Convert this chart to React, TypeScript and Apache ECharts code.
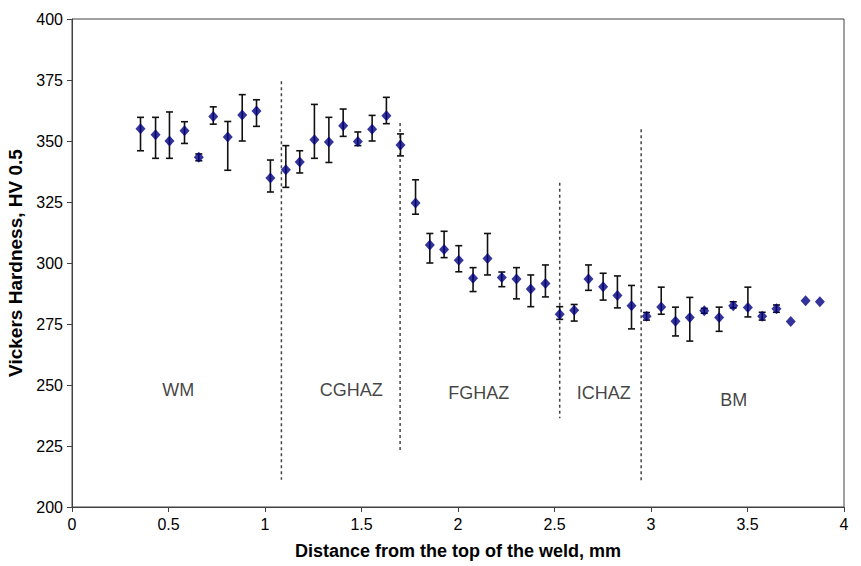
import React, { useEffect, useRef } from "react";
import * as echarts from "echarts";

// Distance from the top of the weld (mm)
const distance = [
  0.355, 0.433, 0.505, 0.583, 0.657, 0.732, 0.807, 0.882, 0.956, 1.028,
  1.108, 1.18, 1.256, 1.331, 1.405, 1.481, 1.555, 1.629, 1.702, 1.78,
  1.854, 1.928, 2.004, 2.078, 2.153, 2.227, 2.303, 2.377, 2.453, 2.527,
  2.602, 2.676, 2.752, 2.826, 2.899, 2.977, 3.053, 3.127, 3.201, 3.276,
  3.353, 3.426, 3.502, 3.576, 3.65, 3.724, 3.801, 3.875,
];

// Mean hardness, HV 0.5
const hardness = [
  355.0, 352.6, 350.0, 354.2, 343.3, 360.0, 351.6, 360.7, 362.3, 334.8,
  338.2, 341.4, 350.5, 349.6, 356.2, 349.8, 354.8, 360.3, 348.4, 324.6,
  307.4, 305.5, 301.1, 293.8, 301.8, 294.1, 293.4, 289.3, 291.6, 279.0,
  280.6, 293.4, 290.3, 286.7, 282.5, 278.2, 282.0, 276.1, 277.7, 280.4,
  277.7, 282.5, 281.8, 278.2, 281.3, 276.0, 284.5, 284.1,
];

// Upper / lower ends of the scatter bars (null = single reading)
const hardnessHigh = [
  359.7, 359.7, 361.9, 357.9, 344.7, 364.0, 358.0, 369.0, 366.9, 342.2,
  348.1, 346.0, 365.0, 359.7, 363.1, 353.7, 360.5, 367.9, 352.9, 334.1,
  312.1, 313.0, 307.1, 298.1, 312.1, 296.3, 298.1, 295.1, 299.2, 282.1,
  283.0, 299.2, 295.8, 294.7, 290.8, 279.7, 290.1, 281.9, 285.9, 281.4,
  281.9, 284.1, 290.1, 279.8, 282.8, null, null, null,
];
const hardnessLow = [
  346.0, 342.9, 342.9, 349.0, 341.9, 356.9, 338.0, 350.0, 356.0, 329.1,
  331.0, 336.9, 342.9, 341.2, 351.9, 348.1, 350.0, 357.1, 343.9, 320.0,
  300.0, 302.2, 296.4, 288.3, 295.1, 290.3, 285.3, 282.1, 286.1, 276.9,
  276.2, 288.8, 284.8, 281.6, 273.0, 276.6, 279.0, 270.1, 268.0, 279.4,
  272.0, 281.6, 277.9, 276.6, 279.8, null, null, null,
];

// Zone boundaries (dashed verticals)
const boundaryX = [1.085, 1.7, 2.527, 2.949];
const boundaryTop = [374.5, 357.4, 332.9, 354.8];
const boundaryBottom = [211.2, 222.3, 236.4, 211.0];

// Zone names and where they sit
const zoneNames = ["WM", "CGHAZ", "FGHAZ", "ICHAZ", "BM"];
const zoneX = [0.55, 1.447, 2.108, 2.755, 3.429];
const zoneY = [248.1, 248.1, 246.7, 246.7, 244.0];

const FONT = "'Liberation Sans', Arial, Helvetica, sans-serif";

export default function App() {
  const ref = useRef<HTMLDivElement>(null);

  useEffect(() => {
    if (!ref.current) return;
    const chart = echarts.init(ref.current, null, { renderer: "svg" });

    const points = distance.map((x, i) => [x, hardness[i]]);
    const bars = distance
      .map((x, i) => [x, hardnessLow[i], hardnessHigh[i]])
      .filter((d) => d[1] != null && d[2] != null);
    const bounds = boundaryX.map((x, i) => [x, boundaryBottom[i], boundaryTop[i]]);
    const zones = zoneNames.map((n, i) => ({ name: n, value: [zoneX[i], zoneY[i]] }));

    chart.setOption({
      animation: false,
      backgroundColor: "#ffffff",
      grid: {
        left: 72,
        right: 17,
        top: 19,
        bottom: 59,
        outerBoundsMode: "none",
        show: true,
        borderColor: "#404040",
        borderWidth: 1,
      },
      xAxis: {
        type: "value",
        min: 0,
        max: 4,
        interval: 0.5,
        name: "Distance from the top of the weld, mm",
        nameLocation: "middle",
        nameGap: 35,
        nameTextStyle: { fontFamily: FONT, fontSize: 18, fontWeight: "bold", color: "#000" },
        axisLine: { lineStyle: { color: "#404040", width: 1 } },
        axisTick: { show: true, length: 5, lineStyle: { color: "#404040" } },
        axisLabel: { fontFamily: FONT, fontSize: 16, color: "#000", margin: 9 },
        splitLine: { show: false },
      },
      yAxis: {
        type: "value",
        min: 200,
        max: 400,
        interval: 25,
        name: "Vickers Hardness, HV 0.5",
        nameLocation: "middle",
        nameGap: 36,
        nameTextStyle: { fontFamily: FONT, fontSize: 19, fontWeight: "bold", color: "#000" },
        axisLine: { show: true, lineStyle: { color: "#404040", width: 1 } },
        axisTick: { show: true, length: 5, lineStyle: { color: "#404040" } },
        axisLabel: { fontFamily: FONT, fontSize: 16, color: "#000", margin: 9 },
        splitLine: { show: false },
      },
      series: [
        {
          type: "custom",
          name: "boundaries",
          z: 1,
          silent: true,
          data: bounds,
          renderItem: (params: any, api: any) => {
            const x = api.value(0);
            const b = api.coord([x, api.value(1)]);
            const t = api.coord([x, api.value(2)]);
            return {
              type: "line",
              shape: { x1: t[0], y1: t[1], x2: b[0], y2: b[1] },
              style: { stroke: "#444", lineWidth: 1.5, lineDash: [3, 3] },
            };
          },
        },
        {
          type: "custom",
          name: "range",
          z: 2,
          silent: true,
          data: bars,
          renderItem: (params: any, api: any) => {
            const x = api.value(0);
            const lo = api.coord([x, api.value(1)]);
            const hi = api.coord([x, api.value(2)]);
            const cap = 3.5;
            const style = { stroke: "#111", lineWidth: 1.6 };
            return {
              type: "group",
              children: [
                { type: "line", shape: { x1: hi[0], y1: hi[1], x2: lo[0], y2: lo[1] }, style },
                { type: "line", shape: { x1: hi[0] - cap, y1: hi[1], x2: hi[0] + cap, y2: hi[1] }, style },
                { type: "line", shape: { x1: lo[0] - cap, y1: lo[1], x2: lo[0] + cap, y2: lo[1] }, style },
              ],
            };
          },
        },
        {
          type: "scatter",
          name: "hardness",
          z: 3,
          symbol: "diamond",
          symbolSize: [10, 11],
          itemStyle: { color: "#000080" },
          data: points,
        },
        {
          type: "scatter",
          name: "zones",
          z: 4,
          symbolSize: 0,
          silent: true,
          data: zones,
          label: {
            show: true,
            position: "inside",
            formatter: "{b}",
            fontFamily: FONT,
            fontSize: 18,
            color: "#111",
          },
        },
      ],
    });

    return () => chart.dispose();
  }, []);

  return <div ref={ref} style={{ width: 861, height: 566, position: "absolute", left: 0, top: 0 }} />;
}
